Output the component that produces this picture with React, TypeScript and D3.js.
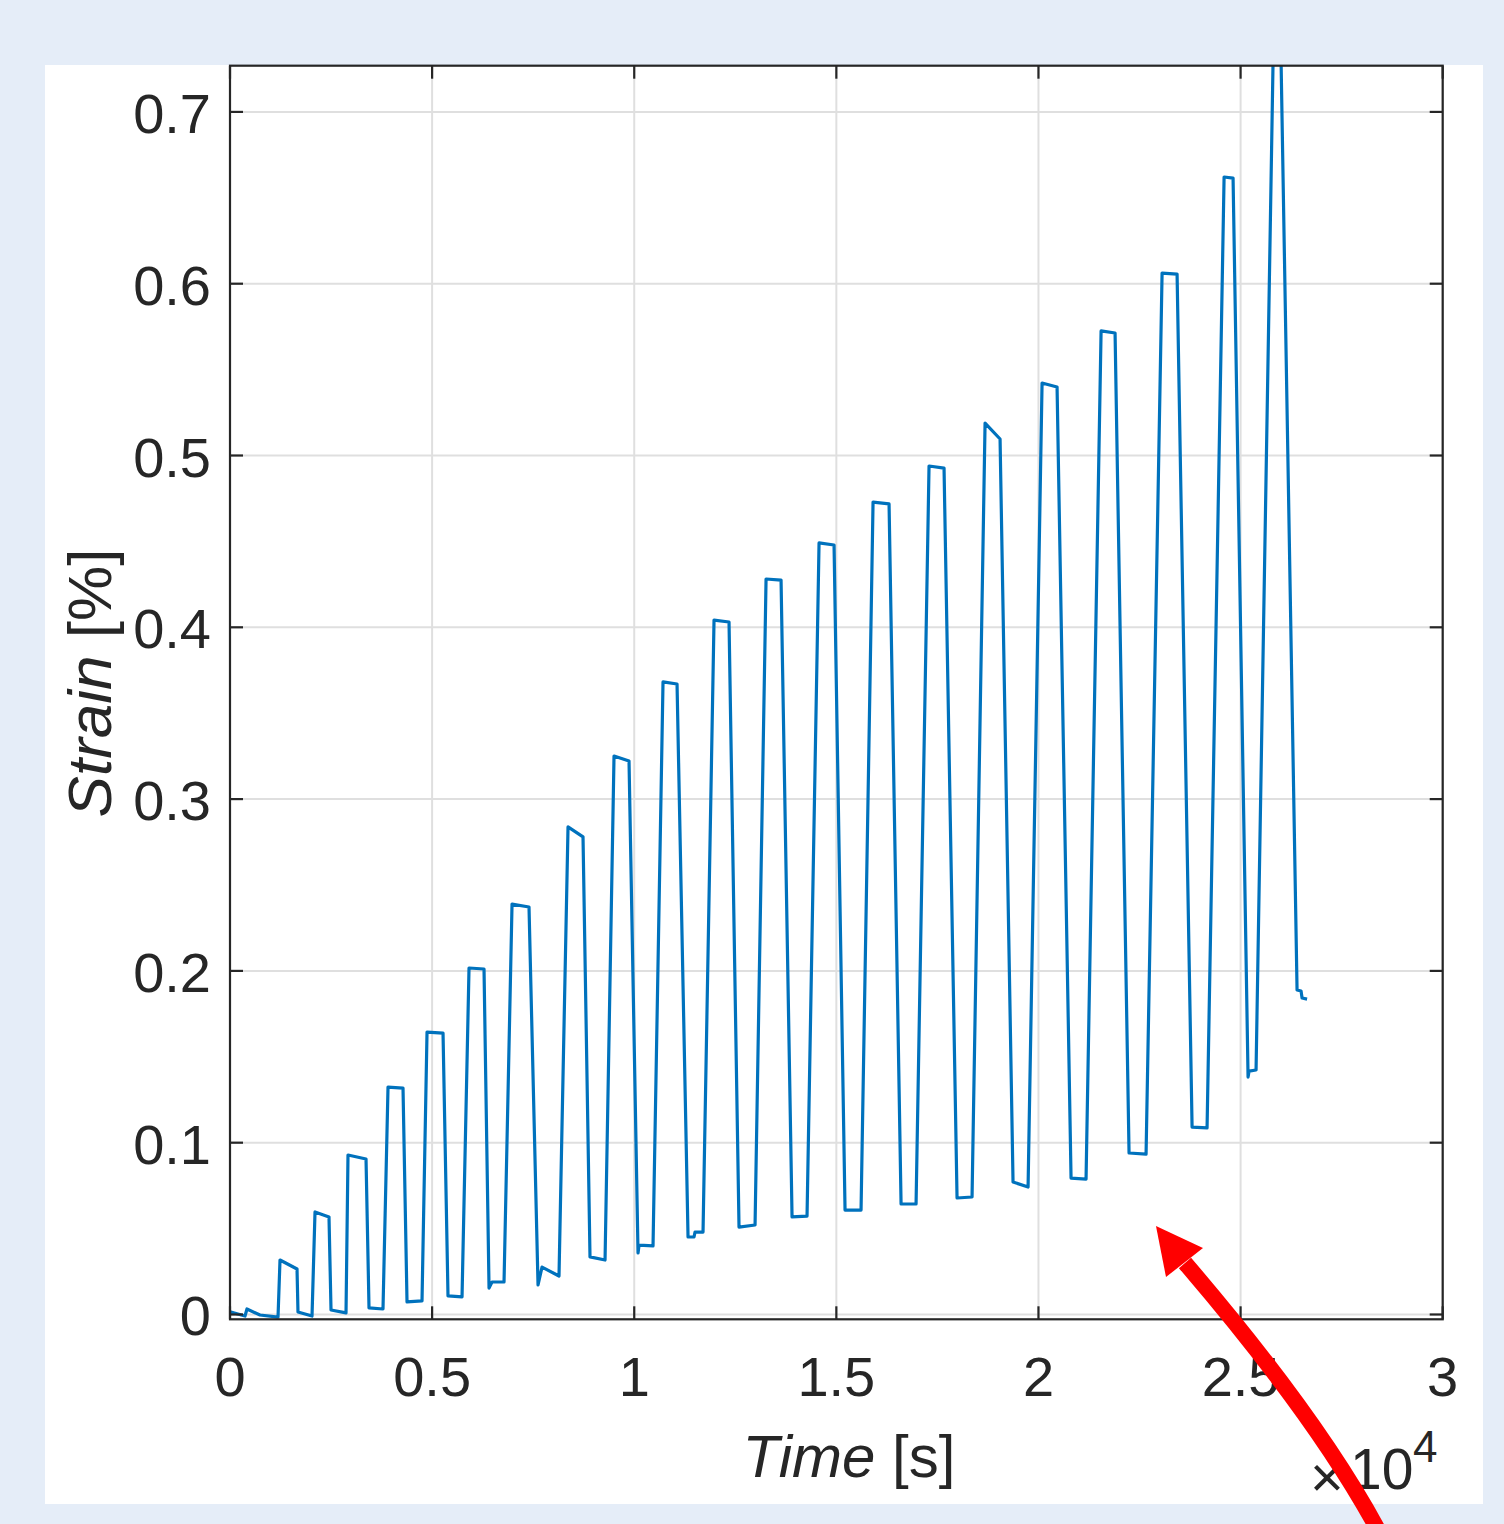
import React from "react";
import * as d3 from "d3";

// ---- data ----
const timeS = [
  0, 371, 420, 742, 1188,
  1237, 1658, 1682, 2029,
  2103, 2449, 2499, 2870,
  2919, 3365, 3439, 3785,
  3909, 4280, 4379, 4750,
  4874, 5270, 5393, 5740,
  5913, 6284, 6408, 6482, 6779,
  6977, 7397, 7620, 7719, 8139,
  8362, 8733, 8906, 9278,
  9500, 9871, 10094, 10119, 10465,
  10712, 11059, 11331, 11479, 11504, 11702,
  11974, 12345, 12592, 12989,
  13261, 13632, 13904, 14275,
  14572, 14943, 15215, 15611,
  15908, 16304, 16601, 16972,
  17293, 17664, 17986, 18357,
  18679, 19050, 19371, 19743,
  20089, 20460, 20806, 21177,
  21549, 21895, 22241, 22662,
  23058, 23429, 23800, 24171,
  24592, 24814, 25185, 25210, 25383,
  25804, 26001, 26397, 26496, 26521, 26645,
];
const strainPct = [
  0.0015, -0.0009, 0.0032, -0.0003, -0.0015,
  0.0317, 0.0265, 0.0015, -0.0009,
  0.0597, 0.0568, 0.0026, 0.0009,
  0.0928, 0.0905, 0.0038, 0.0032,
  0.1324, 0.1318, 0.0073, 0.0079,
  0.1644, 0.1638, 0.0108, 0.0102,
  0.2017, 0.2011, 0.0154, 0.0189, 0.0189,
  0.2389, 0.2372, 0.0172, 0.0276, 0.0224,
  0.2838, 0.278, 0.0335, 0.0317,
  0.3251, 0.3222, 0.0358, 0.0404, 0.0399,
  0.3682, 0.367, 0.0451, 0.0451, 0.048, 0.048,
  0.4042, 0.4031, 0.0509, 0.0521,
  0.4281, 0.4275, 0.0568, 0.0573,
  0.4491, 0.4479, 0.0608, 0.0608,
  0.4729, 0.4718, 0.0643, 0.0643,
  0.4939, 0.4927, 0.0678, 0.0684,
  0.5189, 0.5096, 0.0771, 0.0742,
  0.5422, 0.5399, 0.0794, 0.0788,
  0.5725, 0.5713, 0.094, 0.0934,
  0.6062, 0.6056, 0.1091, 0.1086,
  0.6621, 0.6615, 0.1382, 0.1417, 0.1423,
  0.7302, 0.7302, 0.1889, 0.1883, 0.1842, 0.1836,
];

const xTickValues = [0, 5000, 10000, 15000, 20000, 25000, 30000];
const xTickLabels = ["0", "0.5", "1", "1.5", "2", "2.5", "3"];
const yTickValues = [0, 0.1, 0.2, 0.3, 0.4, 0.5, 0.6, 0.7];
const yTickLabels = ["0", "0.1", "0.2", "0.3", "0.4", "0.5", "0.6", "0.7"];

const xDomain = [0, 30000];
const yDomain = [-0.0028, 0.7269];

// annotation arrow, in data units (time s, strain %)
const arrowHead = [
  [22907, 0.0515],
  [24070, 0.0387],
  [23155, 0.0218],
];
// quadratic curve: start, control, end
const arrowShaft = [
  [23625, 0.03],
  [26900, -0.060],
  [28399, -0.1254],
];

const FONT = "'Liberation Sans', Arial, Helvetica, sans-serif";
const INK = "#262626";

export default function App() {
  const W = 1504;
  const H = 1524;
  const left = 230, right = 1442.7, top = 65.7, bottom = 1319.3;

  const x = d3.scaleLinear().domain(xDomain).range([left, right]);
  const y = d3.scaleLinear().domain(yDomain).range([bottom, top]);

  const pts = timeS.map((t, i) => [t, strainPct[i]] as [number, number]);
  const line = d3
    .line<[number, number]>()
    .x((d) => x(d[0]))
    .y((d) => y(d[1]));

  const sp = d3.path();
  sp.moveTo(x(arrowShaft[0][0]), y(arrowShaft[0][1]));
  sp.quadraticCurveTo(
    x(arrowShaft[1][0]),
    y(arrowShaft[1][1]),
    x(arrowShaft[2][0]),
    y(arrowShaft[2][1])
  );

  const headPts = arrowHead.map((d) => `${x(d[0])},${y(d[1])}`).join(" ");
  const tick = 13;

  return (
    <svg
      width={W}
      height={H}
      style={{ position: "absolute", left: 0, top: 0 }}
      xmlns="http://www.w3.org/2000/svg"
    >
      <defs>
        <clipPath id="plotClip">
          <rect x={left} y={top} width={right - left} height={bottom - top} />
        </clipPath>
      </defs>
      <rect x={0} y={0} width={W} height={H} fill="#e5edf8" />
      <rect x={45} y={65} width={1438} height={1439} fill="#ffffff" />

      {/* grid */}
      <g stroke="#dfdfdf" strokeWidth={2}>
        {xTickValues.map((v, i) => (
          <line key={"gx" + i} x1={x(v)} x2={x(v)} y1={top} y2={bottom} />
        ))}
        {yTickValues.map((v, i) => (
          <line key={"gy" + i} x1={left} x2={right} y1={y(v)} y2={y(v)} />
        ))}
      </g>

      {/* data */}
      <path
        d={line(pts) || ""}
        fill="none"
        stroke="#0072BD"
        strokeWidth={3.2}
        strokeLinejoin="round"
        clipPath="url(#plotClip)"
      />

      {/* axes box and ticks */}
      <g stroke={INK} strokeWidth={2.2} fill="none">
        <rect x={left} y={top} width={right - left} height={bottom - top} />
        {xTickValues.map((v, i) => (
          <g key={"tx" + i}>
            <line x1={x(v)} x2={x(v)} y1={bottom} y2={bottom - tick} />
            <line x1={x(v)} x2={x(v)} y1={top} y2={top + tick} />
          </g>
        ))}
        {yTickValues.map((v, i) => (
          <g key={"ty" + i}>
            <line x1={left} x2={left + tick} y1={y(v)} y2={y(v)} />
            <line x1={right} x2={right - tick} y1={y(v)} y2={y(v)} />
          </g>
        ))}
      </g>

      {/* tick labels */}
      <g fill={INK} fontFamily={FONT} fontSize={56}>
        {xTickValues.map((v, i) => (
          <text key={"lx" + i} x={x(v)} y={1396} textAnchor="middle">
            {xTickLabels[i]}
          </text>
        ))}
        {yTickValues.map((v, i) => (
          <text key={"ly" + i} x={211} y={y(v) + 21} textAnchor="end">
            {yTickLabels[i]}
          </text>
        ))}
      </g>

      {/* axis labels */}
      <text
        x={849}
        y={1477}
        textAnchor="middle"
        fill={INK}
        fontFamily={FONT}
        fontSize={60}
      >
        <tspan fontStyle="italic">Time</tspan>
        <tspan> [s]</tspan>
      </text>
      <text
        transform={`translate(111, 683) rotate(-90)`}
        textAnchor="middle"
        fill={INK}
        fontFamily={FONT}
        fontSize={62}
      >
        <tspan fontStyle="italic">Strain</tspan>
        <tspan> [%]</tspan>
      </text>

      {/* exponent */}
      <g fill={INK} fontFamily={FONT}>
        <text x={1327} y={1497} textAnchor="middle" fontSize={58}>
          ×
        </text>
        <text x={1350} y={1489} fontSize={57}>
          10
        </text>
        <text x={1413} y={1462} fontSize={44}>
          4
        </text>
      </g>

      {/* annotation arrow */}
      <path d={sp.toString()} fill="none" stroke="#ff0000" strokeWidth={16} />
      <polygon points={headPts} fill="#ff0000" />
    </svg>
  );
}
